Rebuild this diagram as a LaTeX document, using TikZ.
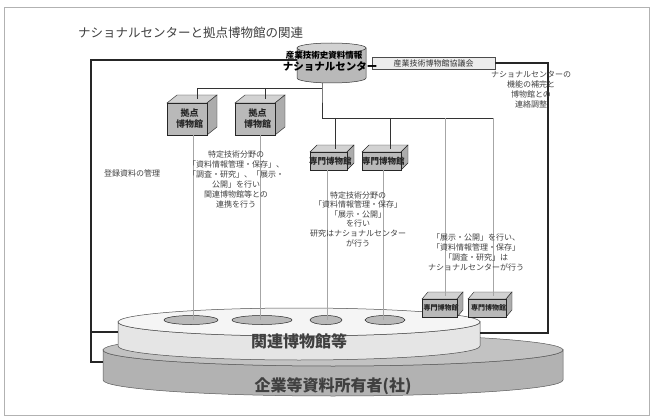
\documentclass[tikz,border=0pt]{standalone}
\usepackage{fontspec}
\setmainfont{Noto Sans CJK JP}
\newcommand\mycube[9]{% #1 name, #2 x, #3 y (top of front), #4 w, #5 h, #6 dx, #7 dy, #8 font, #9 text
  \filldraw[cubetop] (#2,#3) -- ++(#6,-#7) -- ++(#4,0) -- ++(-#6,#7) -- cycle;
  \filldraw[cubeside] (#2+#4,#3) -- ++(#6,-#7) -- ++(0,#5) -- ++(-#6,#7) -- cycle;
  \filldraw[cubefront] (#2,#3) rectangle ++(#4,#5);
  \node[cubetext,font=#8] (#1) at (#2+#4/2+#6/4,#3+#5/2) {#9};
  \coordinate (#1-top) at (#2+#4/2+#6/2,#3-#7/2);
}
\begin{document}
\begin{tikzpicture}[x=1pt,y=-1pt,
  frameline/.style={line width=1.1pt, black!85},
  conn/.style={line width=0.9pt, black!80},
  thinline/.style={line width=0.5pt, gray!70},
  note/.style={font=\fontsize{8}{10}\selectfont, align=center, text=black!75, inner sep=0pt},
  cubetop/.style={fill=gray!35, draw=gray!30!black, line width=0.4pt},
  cubeside/.style={fill=gray!65, draw=gray!30!black, line width=0.4pt},
  cubefront/.style={fill=gray!55, draw=gray!30!black, line width=0.4pt},
  cubetext/.style={align=center, inner sep=0pt, text=black!85},
  hole/.style={fill=gray!55, draw=gray!30!black, line width=0.5pt},
  big/.style={font=\fontsize{16}{18}\selectfont\bfseries, text=black!75, inner sep=0pt}]
\useasboundingbox (0,0) rectangle (654,420);
\draw[gray!60, line width=1pt] (4,8) rectangle (649,415);

% title
\node[anchor=west, inner sep=0pt, text=black!75, font=\fontsize{12.5}{14}\selectfont] (title) at (78,33) {ナショナルセンターと拠点博物館の関連};

% lower disc
\filldraw[fill=gray!60, draw=gray!70!black, line width=0.5pt]
  (103,350) -- (103,380) arc[start angle=180, end angle=0, x radius=230, y radius=16]
  -- (563,350) arc[start angle=0, end angle=180, x radius=230, y radius=16] -- cycle;
\filldraw[fill=gray!48, draw=gray!70!black, line width=0.5pt] (333,350) ellipse[x radius=230, y radius=16];
\node[big] (kigyo) at (333,386) {企業等資料所有者(社)};

% upper disc
\filldraw[fill=gray!20, draw=gray!60!black, line width=0.5pt]
  (118,322) -- (118,346) arc[start angle=180, end angle=0, x radius=181, y radius=14]
  -- (480,322) arc[start angle=0, end angle=180, x radius=181, y radius=14] -- cycle;
\filldraw[fill=gray!8, draw=gray!60!black, line width=0.5pt] (299,322) ellipse[x radius=181, y radius=14];
\node[big] (kanren) at (299,341) {関連博物館等};

% holes
\filldraw[hole] (191,320) ellipse[x radius=27, y radius=4.5];
\filldraw[hole] (262,320) ellipse[x radius=30, y radius=4.5];
\filldraw[hole] (326,320) ellipse[x radius=16, y radius=4.5];
\filldraw[hole] (385,320) ellipse[x radius=20, y radius=4.5];
\coordinate (e1) at (193,320);
\coordinate (e2) at (260,320);
\coordinate (e3) at (327,320);
\coordinate (e4) at (383,320);

% cylinder: national center
\filldraw[fill=gray!55, draw=gray!40!black, line width=0.5pt]
  (297,48) -- (297,78) arc[start angle=180, end angle=0, x radius=34.5, y radius=5]
  -- (366,48) -- cycle;
\filldraw[fill=gray!35, draw=gray!40!black, line width=0.5pt] (331.5,48) ellipse[x radius=34.5, y radius=5];
\coordinate (ncL) at (297,60);
\coordinate (ncB) at (322,83);

% council box
\node[draw=gray!60!black, fill=gray!15, line width=0.5pt, minimum width=123pt, minimum height=12pt, inner sep=0pt,
  font=\fontsize{8}{9}\selectfont, text=black!80] (kyogi) at (433.5,63) {産業技術博物館協議会};

% cylinder labels (drawn over the council box edge)
\node[inner sep=0pt, font=\fontsize{8.5}{9}\selectfont\bfseries, text=black] (ncsub) at (324,55) {産業技術史資料情報};
\node[inner sep=0pt, font=\fontsize{10.5}{11}\selectfont\bfseries, text=black] (nc) at (330,66) {ナショナルセンター};

% frame lines
\coordinate (fTL) at (91,60);
\coordinate (fML) at (91,332);
\coordinate (fBL) at (91,362);
\coordinate (upL) at (118,332);
\coordinate (loL) at (103,362);
\coordinate (fTR) at (548,63);
\coordinate (fBR) at (548,333);
\coordinate (upR) at (480,333);
\draw[frameline] (ncL) -- (fTL) -- (fBL) -- (loL);
\draw[frameline] (fML) -- (upL);
\draw[frameline] (kyogi.east) -- (fTR) -- (fBR) -- (upR);

% cubes
\mycube{k1}{167}{103}{40}{32}{10}{8}{\fontsize{9}{11}\selectfont\bfseries}{拠点\\博物館}
\mycube{k2}{235}{103}{40}{32}{10}{8}{\fontsize{9}{11}\selectfont\bfseries}{拠点\\博物館}
\mycube{m1}{310}{152}{37}{18}{7}{7}{\fontsize{8.5}{9}\selectfont\bfseries}{専門博物館}
\mycube{m2}{362}{152}{39}{18}{7}{7}{\fontsize{8.5}{9}\selectfont\bfseries}{専門博物館}
\mycube{s1}{422}{299}{35}{18}{6}{7}{\fontsize{7}{8}\selectfont\bfseries}{専門博物館}
\mycube{s2}{468}{299}{38}{18}{6}{7}{\fontsize{7}{8}\selectfont\bfseries}{専門博物館}

% connectors from the national center
\coordinate (j1) at (322,88);
\coordinate (j2) at (322,118);
\coordinate (h1) at (197,88);
\coordinate (h2) at (265,88);
\coordinate (t1) at (335,118);
\coordinate (t2) at (390,118);
\coordinate (t3) at (445,118);
\coordinate (t4) at (493,118);
\draw[conn] (ncB) -- (j1) -- (j2);
\draw[conn] (j1) -- (h1) -- (197,99);
\draw[conn] (h2) -- (265,99);
\draw[conn] (j2) -- (t4);
\draw[conn] (t1) -- (335,148.5);
\draw[conn] (t2) -- (390,148.5);
\draw[thinline] (t3) -- (445,295.5);
\draw[thinline] (t4) -- (493,295.5);

% connectors down to the related museums
\coordinate (k1b) at (193,135);
\coordinate (k2b) at (260,135);
\coordinate (m1b) at (327,170);
\coordinate (m2b) at (383,170);
\draw[thinline] (k1b) -- (e1);
\draw[thinline] (k2b) -- (e2);
\draw[thinline] (m1b) -- (e3);
\draw[thinline] (m2b) -- (e4);

% notes
\node[note] (n0) at (132,173) {登録資料の管理};
\node[note] (n1) at (236,179) {特定技術分野の\\「資料情報管理・保存」、\\「調査・研究」、「展示・\\公開」を行い\\関連博物館等との\\連携を行う};
\node[note, font=\fontsize{8}{9.6}\selectfont] (n2) at (358,219) {特定技術分野の\\「資料情報管理・保存」\\「展示・公開」\\を行い\\研究はナショナルセンター\\が行う};
\node[note] (n3) at (476,252) {「展示・公開」を行い、\\「資料情報管理・保存」\\「調査・研究」は\\ナショナルセンターが行う};
\node[note] (n4) at (531,90) {ナショナルセンターの\\機能の補完と\\博物館との\\連絡調整};
\end{tikzpicture}
\end{document}
